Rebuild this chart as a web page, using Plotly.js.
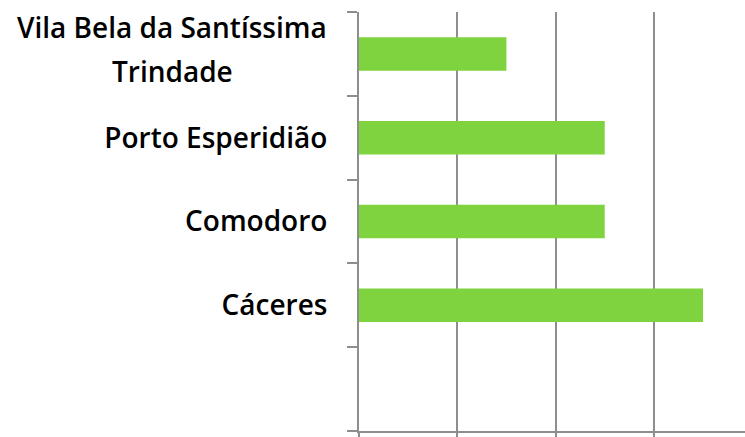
<!DOCTYPE html>
<html>
<head>
<meta charset="utf-8">
<script src="https://cdn.plot.ly/plotly-3.0.1.min.js"></script>
<style>
  html, body { margin: 0; padding: 0; background: #ffffff; }
  #chart { width: 745px; height: 437px; }
</style>
</head>
<body>
<div id="chart"></div>
<script>
//#region data
const cities = ['Cáceres', 'Comodoro', 'Porto Esperidião', 'Vila Bela da Santíssima Trindade'];
const values = [3.5, 2.5, 2.5, 1.5];
// empty slot at the bottom of the axis, then the cities bottom-up
const slots = [' ', ...cities];
const slotLabels = [' ', 'Cáceres', 'Comodoro', 'Porto Esperidião', ''];
// the long name is wrapped over two lines with wider spacing
const longLabelLines = ['Vila Bela da Santíssima', 'Trindade'];
//#endregion

//#region chart
const gridGrey = '#8e8e8e';
const labelFont = { family: 'Open Sans, sans-serif', size: 28, weight: 600, color: '#000000' };

const traceBars = {
    x: values, y: cities, type: 'bar', orientation: 'h',
    width: 0.4,
    marker: { color: '#7ed33e', line: { width: 0 } },
    hoverinfo: 'x+y'
};

const lineShifts = [27, -17];
const longLabelNotes = longLabelLines.map((txt, i) => ({
    x: 0, xref: 'paper', xanchor: 'center', xshift: -187,
    y: cities[3], yref: 'y', yanchor: 'middle', yshift: lineShifts[i],
    text: txt, showarrow: false, font: labelFont
}));

const layout = {
    width: 745, height: 437,
    paper_bgcolor: '#ffffff', plot_bgcolor: '#ffffff',
    margin: { l: 359, r: 0, t: 12, b: 6, pad: 0 },
    showlegend: false,
    xaxis: {
        range: [0, 3.927], dtick: 1, tick0: 0,
        showgrid: true, gridcolor: gridGrey, gridwidth: 2,
        zeroline: false, showline: true, linecolor: gridGrey, linewidth: 2,
        ticks: 'outside', ticklen: 8, tickcolor: gridGrey, tickwidth: 2,
        showticklabels: false, fixedrange: true
    },
    yaxis: {
        type: 'category', categoryorder: 'array', categoryarray: slots,
        range: [-0.5, 4.5],
        tickmode: 'array', tickvals: slots, ticktext: slotLabels,
        tickson: 'boundaries', ticks: 'outside', ticklen: 10,
        tickcolor: gridGrey, tickwidth: 2,
        ticklabelstandoff: 24,
        showgrid: false, zeroline: false,
        showline: true, linecolor: gridGrey, linewidth: 2,
        tickfont: labelFont, fixedrange: true
    },
    annotations: longLabelNotes
};

Plotly.newPlot('chart', [traceBars], layout, { displayModeBar: false, staticPlot: true });
//#endregion
</script>
</body>
</html>
